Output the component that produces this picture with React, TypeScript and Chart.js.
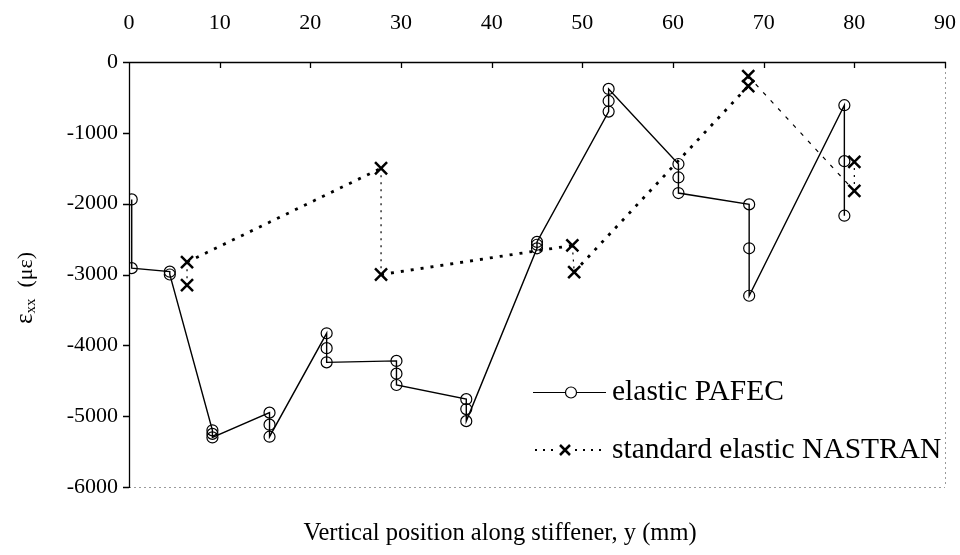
import React, { useEffect, useRef } from "react";
import { Chart, registerables } from "chart.js";

Chart.register(...registerables);

// ---- data ----
const xTicks = [0, 10, 20, 30, 40, 50, 60, 70, 80, 90];
const yTicks = [0, -1000, -2000, -3000, -4000, -5000, -6000];

const pafecX = [0.3, 0.3, 4.5, 4.5, 9.2, 9.2, 9.2, 15.5, 15.5, 15.5, 21.8, 21.8, 21.8, 29.5, 29.5, 29.5, 37.2, 37.2, 37.2, 45, 45, 45, 52.9, 52.9, 52.9, 60.6, 60.6, 60.6, 68.4, 68.4, 68.4, 78.9, 78.9, 78.9];
const pafecY = [-1940, -2910, -2960, -3000, -5200, -5250, -5300, -4950, -5120, -5290, -3830, -4040, -4240, -4220, -4400, -4560, -4760, -4900, -5070, -2630, -2580, -2540, -700, -550, -380, -1440, -1630, -1850, -2010, -2630, -3300, -610, -1400, -2170];

const nastranX = [6.4, 6.4, 27.8, 27.8, 48.9, 49.1, 68.3, 68.3, 80, 80];
const nastranY = [-3150, -2825, -1500, -3000, -2590, -2965, -340, -200, -1820, -1410];

const seriesNames = ["elastic PAFEC", "standard elastic NASTRAN"];
const xTitle = "Vertical position along stiffener, y (mm)";

const SERIF = "'Liberation Serif', 'Times New Roman', serif";

const decorPlugin = {
  id: "decor",
  beforeDatasetsDraw(chart: any) {
    const { ctx, chartArea: a, scales } = chart;
    ctx.save();
    // faint right & bottom borders
    ctx.strokeStyle = "#9a9a9a";
    ctx.lineWidth = 1;
    ctx.setLineDash([2, 3]);
    ctx.beginPath();
    ctx.moveTo(a.right + 0.5, a.top);
    ctx.lineTo(a.right + 0.5, a.bottom);
    ctx.moveTo(a.left, a.bottom + 0.5);
    ctx.lineTo(a.right, a.bottom + 0.5);
    ctx.stroke();
    ctx.setLineDash([]);
    // main axes
    ctx.strokeStyle = "#000";
    ctx.lineWidth = 1.3;
    ctx.beginPath();
    ctx.moveTo(a.left, a.top + 0.5);
    ctx.lineTo(a.right + 1, a.top + 0.5);
    ctx.moveTo(a.left + 0.5, a.top);
    ctx.lineTo(a.left + 0.5, a.bottom + 1);
    // ticks
    scales.x.ticks.forEach((t: any) => {
      const px = Math.round(scales.x.getPixelForValue(t.value)) + 0.5;
      ctx.moveTo(px, a.top);
      ctx.lineTo(px, a.top + 6);
    });
    scales.y.ticks.forEach((t: any) => {
      const py = Math.round(scales.y.getPixelForValue(t.value)) + 0.5;
      ctx.moveTo(a.left - 6, py);
      ctx.lineTo(a.left, py);
    });
    ctx.stroke();
    ctx.restore();
  },
  afterDraw(chart: any) {
    const { ctx } = chart;
    ctx.save();
    ctx.fillStyle = "#000";
    // x title
    ctx.font = `24.5px ${SERIF}`;
    ctx.textAlign = "center";
    ctx.textBaseline = "alphabetic";
    ctx.fillText(xTitle, 500, 540);
    // y title with subscript
    ctx.translate(32, 288);
    ctx.rotate(-Math.PI / 2);
    const p1 = "ε";
    const p2 = "xx";
    const p3 = "  (με)";
    ctx.font = `25px ${SERIF}`;
    const w1 = ctx.measureText(p1).width;
    ctx.font = `15px ${SERIF}`;
    const w2 = ctx.measureText(p2).width;
    ctx.font = `22px ${SERIF}`;
    const w3 = ctx.measureText(p3).width;
    let sx = -(w1 + w2 + w3) / 2;
    ctx.textAlign = "left";
    ctx.font = `25px ${SERIF}`;
    ctx.fillText(p1, sx, 0);
    sx += w1;
    ctx.font = `15px ${SERIF}`;
    ctx.fillText(p2, sx, 3);
    sx += w2;
    ctx.font = `22px ${SERIF}`;
    ctx.fillText(p3, sx, 0);
    ctx.restore();

    // legend
    ctx.save();
    ctx.strokeStyle = "#000";
    ctx.fillStyle = "#000";
    // row 1
    ctx.lineWidth = 1.2;
    ctx.beginPath();
    ctx.moveTo(533, 392.5);
    ctx.lineTo(565.5, 392.5);
    ctx.moveTo(576.5, 392.5);
    ctx.lineTo(606, 392.5);
    ctx.stroke();
    ctx.beginPath();
    ctx.arc(571, 392.5, 5.5, 0, Math.PI * 2);
    ctx.stroke();
    // row 2
    ctx.lineWidth = 2;
    ctx.setLineDash([2, 6]);
    ctx.beginPath();
    ctx.moveTo(535, 450);
    ctx.lineTo(557, 450);
    ctx.moveTo(575, 450);
    ctx.lineTo(606, 450);
    ctx.stroke();
    ctx.setLineDash([]);
    ctx.lineWidth = 2.5;
    ctx.beginPath();
    ctx.moveTo(560, 445);
    ctx.lineTo(570, 455);
    ctx.moveTo(570, 445);
    ctx.lineTo(560, 455);
    ctx.stroke();
    ctx.font = `29.5px ${SERIF}`;
    ctx.textAlign = "left";
    ctx.textBaseline = "alphabetic";
    ctx.fillText(seriesNames[0], 612, 400);
    ctx.fillText(seriesNames[1], 612, 458);
    ctx.restore();
  },
};

export default function App() {
  const ref = useRef<HTMLCanvasElement | null>(null);
  useEffect(() => {
    if (!ref.current) return;
    const thick = [1, 3, 5];
    const chart = new Chart(ref.current, {
      type: "line",
      data: {
        datasets: [
          {
            label: seriesNames[0],
            data: pafecX.map((x, i) => ({ x, y: pafecY[i] })),
            borderColor: "#000",
            borderWidth: 1.4,
            pointStyle: "circle",
            pointRadius: 5.5,
            pointBorderWidth: 1.2,
            pointBorderColor: "#000",
            pointBackgroundColor: "rgba(0,0,0,0)",
            tension: 0,
          },
          {
            label: seriesNames[1],
            data: nastranX.map((x, i) => ({ x, y: nastranY[i] })),
            borderColor: "#000",
            borderWidth: 1.2,
            borderDash: [2, 5],
            pointStyle: "crossRot",
            pointRadius: 8.5,
            pointBorderWidth: 2.5,
            pointBorderColor: "#000",
            tension: 0,
            segment: {
              borderWidth: (c: any) => (thick.includes(c.p0DataIndex) ? 2.8 : 1.2),
              borderDash: (c: any) =>
                thick.includes(c.p0DataIndex) ? [3, 7] : c.p0DataIndex === 7 ? [4, 7] : [2, 5],
            },
          } as any,
        ],
      },
      options: {
        responsive: false,
        animation: false,
        layout: { padding: { left: 0, top: 0, right: 15, bottom: 68 } },
        plugins: { legend: { display: false }, tooltip: { enabled: false } },
        scales: {
          x: {
            type: "linear",
            position: "top",
            min: 0,
            max: 90,
            afterFit: (s: any) => {
              s.height = 62;
              s.paddingLeft = 0;
              s.paddingRight = 0;
            },
            afterBuildTicks: (s: any) => {
              s.ticks = xTicks.map((v) => ({ value: v }));
            },
            grid: { display: false, drawTicks: false },
            border: { display: false },
            ticks: { color: "#000", padding: 26, font: { family: SERIF, size: 22 } },
          },
          y: {
            type: "linear",
            position: "left",
            min: -6000,
            max: 0,
            afterFit: (s: any) => {
              s.width = 129;
              s.paddingTop = 0;
              s.paddingBottom = 0;
            },
            afterBuildTicks: (s: any) => {
              s.ticks = yTicks.map((v) => ({ value: v }));
            },
            grid: { display: false, drawTicks: false },
            border: { display: false },
            ticks: { color: "#000", padding: 11, font: { family: SERIF, size: 22 }, callback: (v: any) => String(v) },
          },
        },
      },
      plugins: [decorPlugin],
    } as any);
    return () => chart.destroy();
  }, []);
  return (
    <div style={{ position: "absolute", left: 0, top: 0, width: 960, height: 555, background: "#fff" }}>
      <canvas ref={ref} width={960} height={555} />
    </div>
  );
}
